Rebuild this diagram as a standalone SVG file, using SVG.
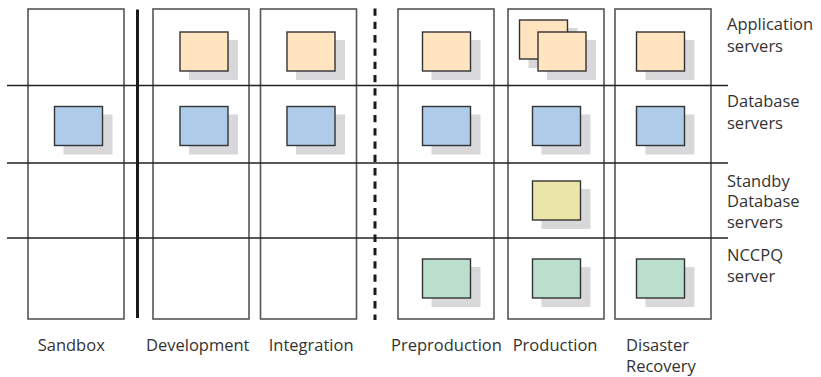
<svg xmlns="http://www.w3.org/2000/svg" width="821" height="377" viewBox="0 0 821 377">
<style>
.cell{fill:none;stroke:#555;stroke-width:1.6}
.hl{stroke:#222;stroke-width:1.4}
.sh{fill:#D8D8DA}
.bx{stroke:#333;stroke-width:1.4}
.app{fill:#FFE4BF}
.db{fill:#AECBEA}
.sb{fill:#EBE6A8}
.nq{fill:#BADFCD}
text{font-family:"Open Sans","DejaVu Sans",sans-serif;font-size:16.5px;fill:#333}
</style>
<rect width="821" height="377" fill="#fff"/>
<g id="columns">
<rect class="cell" x="28" y="9" width="96" height="310"/>
<rect class="cell" x="153" y="9" width="96" height="310"/>
<rect class="cell" x="260.5" y="9" width="96" height="310"/>
<rect class="cell" x="398" y="9" width="96" height="310"/>
<rect class="cell" x="508" y="9" width="96" height="310"/>
<rect class="cell" x="615" y="9" width="96" height="310"/>
</g>
<g id="connectors">
<line class="hl" x1="7" y1="85.5" x2="728" y2="85.5"/>
<line class="hl" x1="7" y1="163" x2="728" y2="163"/>
<line class="hl" x1="7" y1="238" x2="728" y2="238"/>
<line x1="137.5" y1="9.5" x2="137.5" y2="318" stroke="#1a1a1a" stroke-width="3"/>
<line x1="375" y1="8.5" x2="375" y2="320" stroke="#1a1a1a" stroke-width="3" stroke-dasharray="7.3 6"/>
</g>
<g id="app-servers">
<rect class="sh" x="189" y="40" width="49" height="40"/><rect class="bx app" x="180" y="32" width="48" height="39"/>
<rect class="sh" x="296" y="40" width="49" height="40"/><rect class="bx app" x="287" y="32" width="48" height="39"/>
<rect class="sh" x="431.5" y="40" width="49" height="40"/><rect class="bx app" x="422.5" y="32" width="48" height="39"/>
<rect class="sh" x="528.5" y="28" width="49" height="40"/><rect class="bx app" x="519.5" y="20" width="48" height="39"/>
<rect class="sh" x="547" y="40" width="49" height="40"/><rect class="bx app" x="538" y="32" width="48" height="39"/>
<rect class="sh" x="645.5" y="40" width="49" height="40"/><rect class="bx app" x="636.5" y="32" width="48" height="39"/>
</g>
<g id="db-servers">
<rect class="sh" x="63.5" y="114.5" width="49" height="40"/><rect class="bx db" x="54.5" y="106.5" width="48" height="39"/>
<rect class="sh" x="189" y="114.5" width="49" height="40"/><rect class="bx db" x="180" y="106.5" width="48" height="39"/>
<rect class="sh" x="296" y="114.5" width="49" height="40"/><rect class="bx db" x="287" y="106.5" width="48" height="39"/>
<rect class="sh" x="431.5" y="114.5" width="49" height="40"/><rect class="bx db" x="422.5" y="106.5" width="48" height="39"/>
<rect class="sh" x="541.5" y="114.5" width="49" height="40"/><rect class="bx db" x="532.5" y="106.5" width="48" height="39"/>
<rect class="sh" x="645.5" y="114.5" width="49" height="40"/><rect class="bx db" x="636.5" y="106.5" width="48" height="39"/>
</g>
<g id="standby-servers">
<rect class="sh" x="541.5" y="189" width="49" height="40"/><rect class="bx sb" x="532.5" y="181" width="48" height="39"/>
</g>
<g id="nccpq-servers">
<rect class="sh" x="431.5" y="267" width="49" height="40"/><rect class="bx nq" x="422.5" y="259" width="48" height="39"/>
<rect class="sh" x="541.5" y="267" width="49" height="40"/><rect class="bx nq" x="532.5" y="259" width="48" height="39"/>
<rect class="sh" x="645.5" y="267" width="49" height="40"/><rect class="bx nq" x="636.5" y="259" width="48" height="39"/>
</g>
<g id="row-labels">
<text x="727" y="30">Application</text><text x="727" y="51.7">servers</text>
<text x="727" y="107.3">Database</text><text x="727" y="129">servers</text>
<text x="727" y="186.7">Standby</text><text x="727" y="207.3">Database</text><text x="727" y="228">servers</text>
<text x="727" y="261">NCCPQ</text><text x="727" y="281.7">server</text>
</g>
<g id="column-labels">
<text x="37.7" y="350.7">Sandbox</text>
<text x="146" y="350.7">Development</text>
<text x="268.7" y="350.7">Integration</text>
<text x="391" y="350.7">Preproduction</text>
<text x="512.7" y="350.7">Production</text>
<text x="626" y="350.7">Disaster</text><text x="626" y="371.5">Recovery</text>
</g>
</svg>
